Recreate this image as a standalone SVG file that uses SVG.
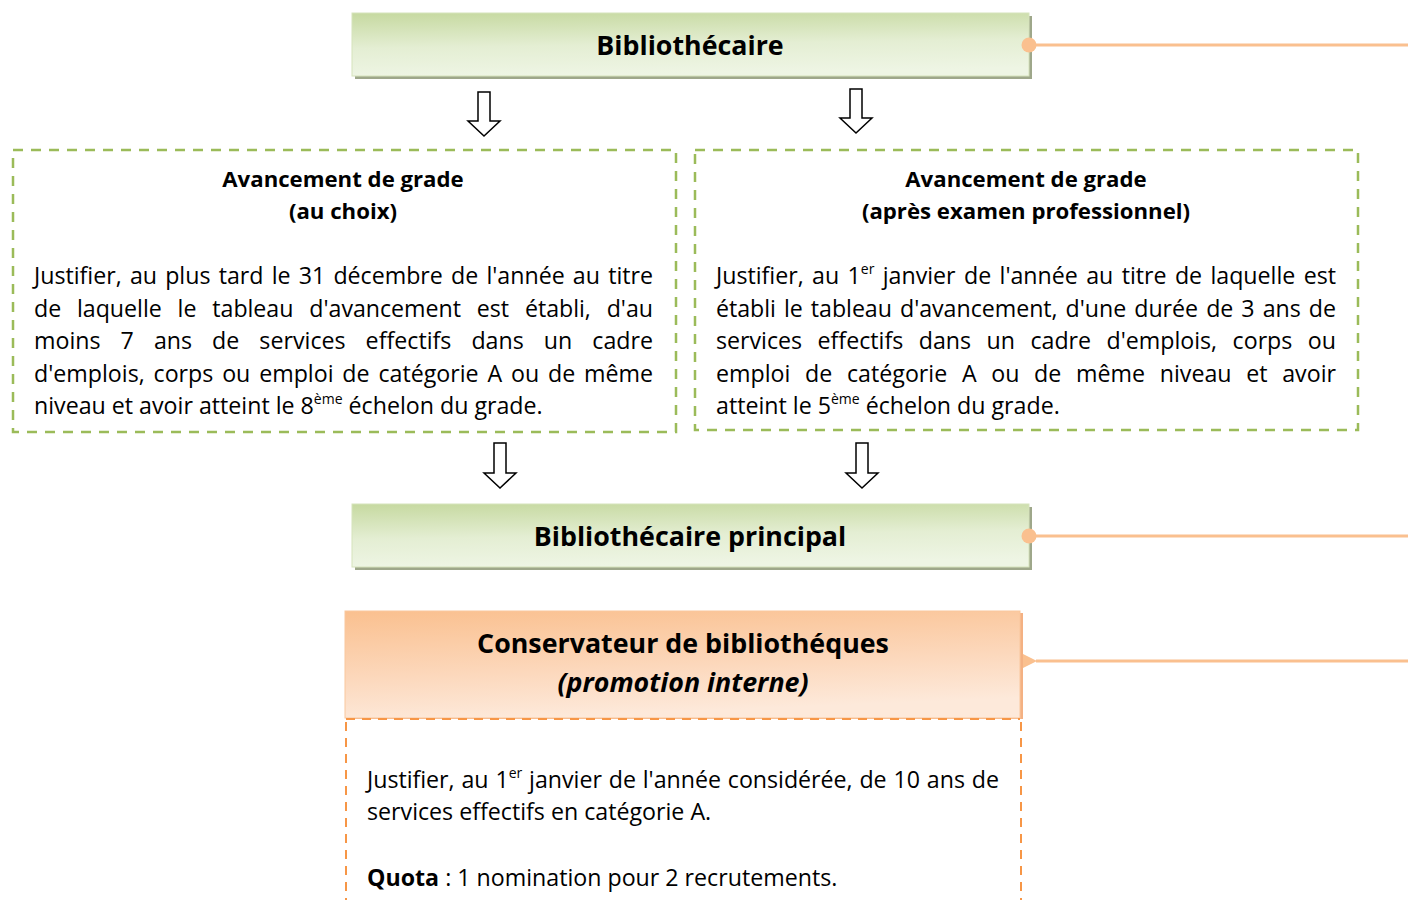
<svg xmlns="http://www.w3.org/2000/svg" width="1408" height="900" viewBox="0 0 1408 900">
<defs>
<linearGradient id="gGreen" x1="0" y1="0" x2="0.15" y2="1">
<stop offset="0" stop-color="#c6d9a0"/>
<stop offset="0.55" stop-color="#e4eed3"/>
<stop offset="1" stop-color="#eef5e4"/>
</linearGradient>
<linearGradient id="gOrange" x1="0" y1="0" x2="0.25" y2="1">
<stop offset="0" stop-color="#fac08f"/>
<stop offset="0.6" stop-color="#fcd8bc"/>
<stop offset="1" stop-color="#fde9da"/>
</linearGradient>
<marker id="arrL" viewBox="0 0 14 14" refX="1" refY="7" markerWidth="14" markerHeight="14" markerUnits="userSpaceOnUse" orient="auto-start-reverse">
<path d="M14,0 L0,7 L14,14 Z" fill="#fac08f"/>
</marker>
</defs>
<style>
text{font-family:"Open Sans","Liberation Sans",sans-serif;fill:#000;}
.t1{font-size:26.8px;font-weight:bold;}
.t2{font-size:22.2px;font-weight:bold;}
.b{font-size:23.2px;}
.sup{font-size:14px;}
.gdash{fill:#fff;stroke:#9bbb59;stroke-width:2.5;stroke-dasharray:10 8;}
.odash{fill:none;stroke:#f79646;stroke-width:2;stroke-dasharray:9 7;}
.blk{fill:#fff;stroke:#000;stroke-width:1.5;}
.oline{stroke:#fac08f;stroke-width:3;fill:none;}
</style>

<g id="node-bibliothecaire">
<rect x="355" y="16" width="677" height="63" fill="#9ea78a"/>
<rect x="352" y="13" width="677" height="63" fill="url(#gGreen)" stroke="#d6e3bc" stroke-width="1"/>
<text class="t1" x="690" y="55" text-anchor="middle">Bibliothécaire</text>
</g>

<g id="node-choix">
<rect class="gdash" x="13" y="150" width="663" height="282"/>
<text class="t2" x="343" y="187" text-anchor="middle">Avancement de grade</text>
<text class="t2" x="343" y="219" text-anchor="middle">(au choix)</text>
<text class="b" x="34" y="284" word-spacing="2.2" textLength="619" lengthAdjust="spacing">Justifier, au plus tard le 31 décembre de l'année au titre</text>
<text class="b" x="34" y="317" word-spacing="9.9" textLength="619" lengthAdjust="spacing">de laquelle le tableau d'avancement est établi, d'au</text>
<text class="b" x="34" y="349" word-spacing="14" textLength="619" lengthAdjust="spacing">moins 7 ans de services effectifs dans un cadre</text>
<text class="b" x="34" y="382" word-spacing="2.8" textLength="619" lengthAdjust="spacing">d'emplois, corps ou emploi de catégorie A ou de même</text>
<text class="b" x="34" y="414">niveau et avoir atteint le 8<tspan class="sup" dy="-10">ème</tspan><tspan dy="10"> échelon du grade.</tspan></text>
</g>

<g id="node-examen">
<rect class="gdash" x="695" y="150" width="663" height="280"/>
<text class="t2" x="1026" y="187" text-anchor="middle">Avancement de grade</text>
<text class="t2" x="1026" y="219" text-anchor="middle">(après examen professionnel)</text>
<text class="b" x="716" y="284" word-spacing="2.4" textLength="620" lengthAdjust="spacing">Justifier, au 1<tspan class="sup" dy="-10">er</tspan><tspan dy="10"> janvier de l'année au titre de laquelle est</tspan></text>
<text class="b" x="716" y="317" word-spacing="2.1" textLength="620" lengthAdjust="spacing">établi le tableau d'avancement, d'une durée de 3 ans de</text>
<text class="b" x="716" y="349" word-spacing="9.5" textLength="620" lengthAdjust="spacing">services effectifs dans un cadre d'emplois, corps ou</text>
<text class="b" x="716" y="382" word-spacing="8.6" textLength="620" lengthAdjust="spacing">emploi de catégorie A ou de même niveau et avoir</text>
<text class="b" x="716" y="414">atteint le 5<tspan class="sup" dy="-10">ème</tspan><tspan dy="10"> échelon du grade.</tspan></text>
</g>

<g id="node-principal">
<rect x="355" y="507" width="677" height="63" fill="#9ea78a"/>
<rect x="352" y="504" width="677" height="63" fill="url(#gGreen)" stroke="#d6e3bc" stroke-width="1"/>
<text class="t1" x="690" y="546" text-anchor="middle">Bibliothécaire principal</text>
</g>

<g id="node-conservateur">
<rect x="348" y="613" width="675" height="106" fill="#f4b183"/>
<rect x="345" y="611" width="675" height="107" fill="url(#gOrange)" stroke="#f9c79d" stroke-width="1"/>
<line class="odash" x1="346" y1="719" x2="1020" y2="719"/>
<line class="odash" x1="346" y1="722" x2="346" y2="900"/>
<line class="odash" x1="1021" y1="722" x2="1021" y2="900"/>
<text class="t1" x="683" y="653" text-anchor="middle">Conservateur de bibliothéques</text>
<text class="t1" x="683" y="692" text-anchor="middle" font-style="italic">(promotion interne)</text>
<text class="b" x="367" y="788" word-spacing="0.9" textLength="632" lengthAdjust="spacing">Justifier, au 1<tspan class="sup" dy="-10">er</tspan><tspan dy="10"> janvier de l'année considérée, de 10 ans de</tspan></text>
<text class="b" x="367" y="820">services effectifs en catégorie A.</text>
<text class="b" x="367" y="886"><tspan font-weight="bold">Quota</tspan> : 1 nomination pour 2 recrutements.</text>
</g>

<g id="connectors">
<path class="blk" d="M478,92 H490 V121 H500 L484,136 L468,121 H478 Z"/>
<path class="blk" d="M850,89 H862 V118 H872 L856,133 L840,118 H850 Z"/>
<path class="blk" d="M494,443 H506 V473 H516 L500,488 L484,473 H494 Z"/>
<path class="blk" d="M856,443 H868 V473 H878 L862,488 L846,473 H856 Z"/>
<line class="oline" x1="1029" y1="45" x2="1408" y2="45"/>
<circle cx="1029" cy="45" r="7.5" fill="#fac08f"/>
<line class="oline" x1="1029" y1="536" x2="1408" y2="536"/>
<circle cx="1029" cy="536" r="7.5" fill="#fac08f"/>
<line class="oline" x1="1036" y1="661" x2="1408" y2="661" marker-start="url(#arrL)"/>
</g>
</svg>
